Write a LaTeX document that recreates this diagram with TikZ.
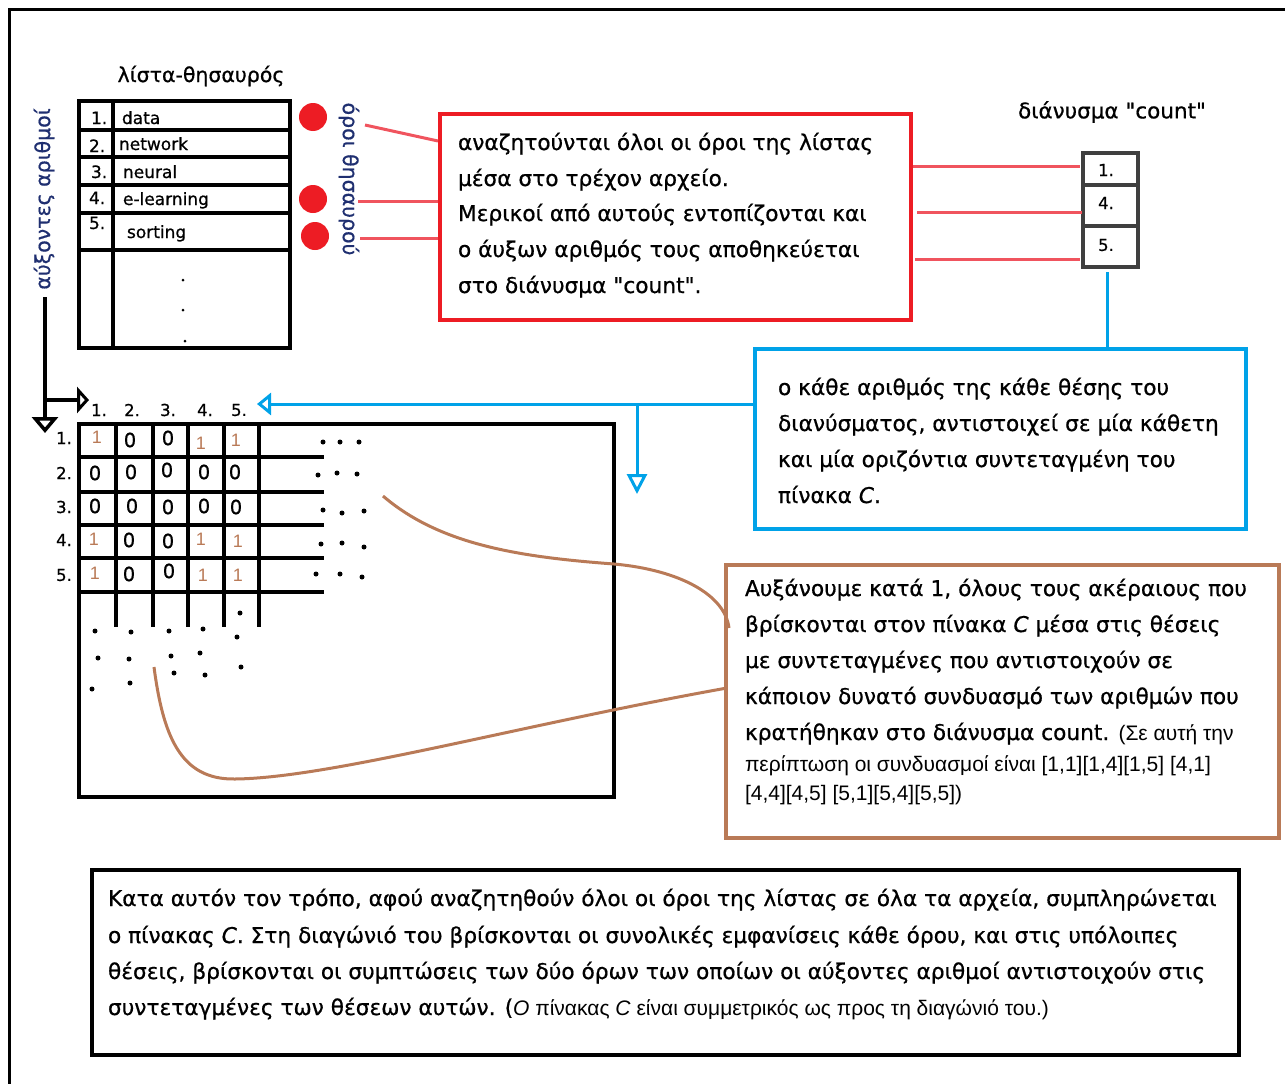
\documentclass[tikz,border=0pt]{standalone}
\usepackage{fontspec}
\setmainfont{DejaVu Sans}[Ligatures=TeXOff, FakeBold=0.7]
\newfontfamily\arialfont{Liberation Sans}[Ligatures=TeXOff]
\usetikzlibrary{arrows.meta}
\definecolor{paintred}{HTML}{ED1C24}
\definecolor{linkred}{HTML}{F0545E}
\definecolor{paintblue}{HTML}{00A2E8}
\definecolor{paintbrown}{HTML}{B97A57}
\definecolor{vecgray}{HTML}{3F3F3F}
\definecolor{labelnavy}{HTML}{1F2F70}
\tikzset{
  bare/.style={inner sep=0pt, outer sep=0pt},
  body/.style={bare, anchor=base west, font=\fontsize{21.7}{26}\selectfont},
  smalltxt/.style={bare, anchor=base west, font=\arialfont\fontsize{21}{24}\selectfont},
  boxframe/.style={bare, anchor=north west, draw},
  listtext/.style={bare, anchor=base west, font=\fontsize{17}{20}\selectfont},
  idx/.style={bare, font=\fontsize{16.5}{20}\selectfont},
  cellzero/.style={bare, font=\fontsize{19.5}{22}\selectfont},
  cellone/.style={bare, font=\arialfont\fontsize{18}{20}\selectfont, text=paintbrown},
  blackdot/.style={fill, circle, inner sep=0pt, minimum size=5pt},
  reddot/.style={fill=paintred, circle, inner sep=0pt, minimum size=28pt},
  redlink/.style={draw=linkred, line width=3pt},
  bluelink/.style={draw=paintblue, line width=3pt},
  brownlink/.style={draw=paintbrown, line width=3pt},
  gridline/.style={line width=4pt},
}
\begin{document}
\begin{tikzpicture}[x=1pt,y=-1pt]
\useasboundingbox (0,0) rectangle (1285,1084);
% outer frame (top and left edges)
\draw[line width=3pt] (9.5,1084) -- (9.5,9.5) -- (1285,9.5);

% ---------- term list ----------
\node[bare, font=\fontsize{20.5}{24}\selectfont] (listtitle) at (201,76) {λίστα-θησαυρός};
\node[boxframe, line width=4pt, minimum width=211pt, minimum height=247pt] (list) at (79,101) {};
\draw[gridline] (113,101) -- (113,348);
\foreach \yy in {130,157,185,213,250} \draw[gridline] (79,\yy) -- (290,\yy);
\node[listtext] (n1) at (91,124) {1.};
\node[listtext] (n2) at (89,152) {2.};
\node[listtext] (n3) at (91,178) {3.};
\node[listtext] (n4) at (89,204) {4.};
\node[listtext] (n5) at (89,229) {5.};
\node[listtext] (w1) at (122,124) {data};
\node[listtext] (w2) at (119,150) {network};
\node[listtext] (w3) at (123,178) {neural};
\node[listtext] (w4) at (123,205) {e-learning};
\node[listtext] (w5) at (127,238) {sorting};
\node[blackdot, minimum size=3pt] (ld1) at (183,280) {};
\node[blackdot, minimum size=3pt] (ld2) at (183,310) {};
\node[blackdot, minimum size=3pt] (ld3) at (185,341) {};

% selected terms
\node[reddot] (d1) at (313,117) {};
\node[reddot] (d4) at (313,199) {};
\node[reddot] (d5) at (315,236) {};
\node[bare, rotate=-90, text=labelnavy, font=\fontsize{20.5}{24}\selectfont] (termlabel) at (349,179) {όροι θησαυρού};
\node[bare, rotate=90, text=labelnavy, font=\fontsize{20.5}{24}\selectfont] (seqlabel) at (44,199) {αύξοντες αριθμοί};

% index arrows
\coordinate (sq0) at (45,297);
\coordinate (sqd) at (45,433);
\coordinate (sqb) at (45,400);
\coordinate (sqr) at (89,400);
\draw[line width=3.5pt, -{Triangle[open, length=16pt, width=26pt]}] (sq0) -- (sqd);
\draw[line width=3.5pt, -{Triangle[open, length=12pt, width=26pt]}] (sqb) -- (sqr);

% ---------- search box ----------
\node[boxframe, draw=paintred, line width=4pt, minimum width=471pt, minimum height=206pt] (redbox) at (440,114) {};
\node[body] (r1) at (458,150) {αναζητούνται όλοι οι όροι της λίστας};
\node[body] (r2) at (458,186) {μέσα στο τρέχον αρχείο.};
\node[body] (r3) at (458,221) {Μερικοί από αυτούς εντοπίζονται και};
\node[body] (r4) at (458,257) {ο άυξων αριθμός τους αποθηκεύεται};
\node[body] (r5) at (458,293) {στο διάνυσμα "count".};

\coordinate (a1) at (365,125); \coordinate (b1) at (438,141);
\coordinate (a2) at (358,201); \coordinate (b2) at (438,201);
\coordinate (a3) at (360,238); \coordinate (b3) at (438,238);
\draw[redlink] (a1) -- (b1);
\draw[redlink] (a2) -- (b2);
\draw[redlink] (a3) -- (b3);

% ---------- count vector ----------
\node[bare, font=\fontsize{21.5}{24}\selectfont] (vectitle) at (1112,112) {διάνυσμα "count"};
\node[boxframe, draw=vecgray, line width=4pt, minimum width=55pt, minimum height=114pt] (vec) at (1083,153) {};
\draw[vecgray, line width=4pt] (1083,185) -- (1138,185);
\draw[vecgray, line width=4pt] (1083,226) -- (1138,226);
\node[idx] (v1) at (1106,170) {1.};
\node[idx] (v4) at (1106,203) {4.};
\node[idx] (v5) at (1106,245) {5.};
\coordinate (c1) at (913,166); \coordinate (e1) at (1080,166);
\coordinate (c2) at (917,212); \coordinate (e2) at (1082,212);
\coordinate (c3) at (915,259); \coordinate (e3) at (1080,259);
\draw[redlink] (c1) -- (e1);
\draw[redlink] (c2) -- (e2);
\draw[redlink] (c3) -- (e3);

% ---------- coordinate note ----------
\coordinate (vb) at (1107,272);
\coordinate (bt) at (1107,349);
\draw[bluelink] (vb) -- (bt);
\node[boxframe, draw=paintblue, line width=4pt, minimum width=491pt, minimum height=180pt] (bluebox) at (755,349) {};
\node[body] (b1t) at (778,395) {ο κάθε αριθμός της κάθε θέσης του};
\node[body] (b2t) at (778,431) {διανύσματος, αντιστοιχεί σε μία κάθετη};
\node[body] (b3t) at (778,467) {και μία οριζόντια συντεταγμένη του};
\node[body] (b4t) at (778,503) {πίνακα \textit{C}.};
\coordinate (hl) at (755,404);
\coordinate (ht) at (257,404);
\coordinate (hb) at (637,404);
\coordinate (hd) at (637,494);
\draw[bluelink, -{Triangle[open, length=14pt, width=22pt]}] (hl) -- (ht);
\draw[bluelink, -{Triangle[open, length=20pt, width=20pt]}] (hb) -- (hd);

% ---------- matrix C ----------
\node[boxframe, line width=4pt, minimum width=535pt, minimum height=373pt] (cmat) at (79,424) {};
\foreach \yy in {457,492,525,558,592} \draw[gridline] (79,\yy) -- (324,\yy);
\foreach \xx in {116,153,188,224,259} \draw[gridline] (\xx,424) -- (\xx,627);
\foreach \xx/\t in {99/1,132/2,168/3,205/4,239/5}
  \node[idx] (col\t) at (\xx,410) {\t.};
\foreach \yy/\t in {438/1,473/2,507/3,540/4,575/5}
  \node[idx] (row\t) at (64,\yy) {\t.};
% cell values
\node[cellone] (m11) at (97,437) {1};
\node[cellzero] (m12) at (130,440) {0};
\node[cellzero] (m13) at (168,438) {0};
\node[cellone] (m14) at (201,443) {1};
\node[cellone] (m15) at (236,440) {1};
\node[cellzero] (m21) at (95,473) {0};
\node[cellzero] (m22) at (131,472) {0};
\node[cellzero] (m23) at (167,470) {0};
\node[cellzero] (m24) at (204,472) {0};
\node[cellzero] (m25) at (235,472) {0};
\node[cellzero] (m31) at (95,506) {0};
\node[cellzero] (m32) at (132,506) {0};
\node[cellzero] (m33) at (168,507) {0};
\node[cellzero] (m34) at (204,506) {0};
\node[cellzero] (m35) at (236,507) {0};
\node[cellone] (m41) at (94,539) {1};
\node[cellzero] (m42) at (129,540) {0};
\node[cellzero] (m43) at (168,541) {0};
\node[cellone] (m44) at (201,539) {1};
\node[cellone] (m45) at (238,541) {1};
\node[cellone] (m51) at (95,573) {1};
\node[cellzero] (m52) at (129,574) {0};
\node[cellzero] (m53) at (169,571) {0};
\node[cellone] (m54) at (203,575) {1};
\node[cellone] (m55) at (238,575) {1};
% continuation dots
\foreach \xx/\yy [count=\k] in {323/442,340/442,359/442, 318/475,337/473,357/474,
    323/510,342/513,364/511, 321/544,342/543,364/547, 316/574,340/574,362/577,
    95/631,131/632,169/631,203/629,240/613,237/637, 98/658,129/659,171/656,200/653,241/667,
    92/689,130/683,174/673,205/675}
  \node[blackdot] (md\k) at (\xx,\yy) {};

% ---------- increment note ----------
\node[boxframe, draw=paintbrown, line width=3.5pt, minimum width=553pt, minimum height=273pt] (brownbox) at (726,565) {};
\node[body] (g1) at (745,596) {Αυξάνουμε κατά 1, όλους τους ακέραιους που};
\node[body] (g2) at (745,632) {βρίσκονται στον πίνακα \textit{C} μέσα στις θέσεις};
\node[body] (g3) at (745,668) {με συντεταγμένες που αντιστοιχούν σε};
\node[body] (g4) at (745,704) {κάποιον δυνατό συνδυασμό των αριθμών που};
\node[body] (g5) at (745,740) {κρατήθηκαν στο διάνυσμα count. {\arialfont\fontsize{21}{24}\selectfont(Σε αυτή την}};
\node[smalltxt] (g6) at (745,771) {περίπτωση οι συνδυασμοί είναι [1,1][1,4][1,5] [4,1]};
\node[smalltxt] (g7) at (745,800) {[4,4][4,5] [5,1][5,4][5,5])};
\coordinate (k1) at (383,496);
\coordinate (k2) at (614,564);
\coordinate (k3) at (729,628);
\coordinate (q1) at (154,667);
\coordinate (q2) at (235,779);
\coordinate (q3) at (727,688);
\draw[brownlink] (k1) .. controls (440,545) and (520,557) .. (k2)
  .. controls (680,570) and (725,595) .. (k3);
\draw[brownlink] (q1) .. controls (163,735) and (180,780) .. (q2)
  .. controls (330,778) and (520,725) .. (q3);

% ---------- summary ----------
\node[boxframe, line width=4pt, minimum width=1147pt, minimum height=185pt] (sumbox) at (92,870) {};
\node[body] (s1) at (108,906) {Κατα αυτόν τον τρόπο, αφού αναζητηθούν όλοι οι όροι της λίστας σε όλα τα αρχεία, συμπληρώνεται};
\node[body] (s2) at (108,943) {ο πίνακας \textit{C}. Στη διαγώνιό του βρίσκονται οι συνολικές εμφανίσεις κάθε όρου, και στις υπόλοιπες};
\node[body] (s3) at (108,979) {θέσεις, βρίσκονται οι συμπτώσεις των δύο όρων των οποίων οι αύξοντες αριθμοί αντιστοιχούν στις};
\node[body] (s4) at (108,1015) {συντεταγμένες των θέσεων αυτών. ({\arialfont\fontsize{21}{24}\selectfont\textit{Ο} πίνακας \textit{C} είναι συμμετρικός ως προς τη διαγώνιό του.)}};
\end{tikzpicture}
\end{document}
